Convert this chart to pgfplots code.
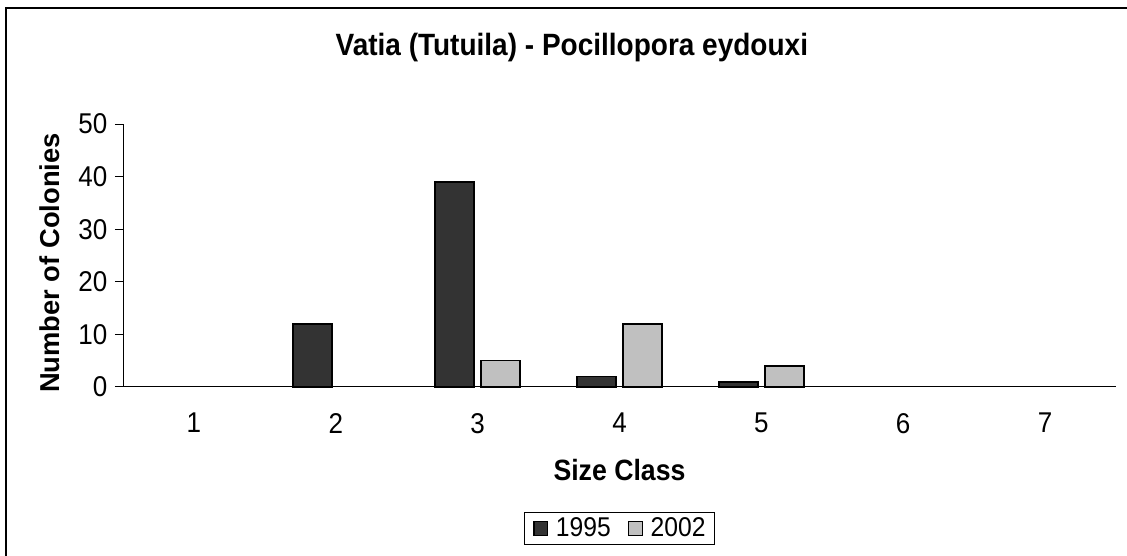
\documentclass[border=0pt]{standalone}
\usepackage{pgfplots}
\pgfplotsset{compat=1.18}
\usepackage{fontspec}
\setmainfont{Liberation Sans}
\definecolor{darkbar}{HTML}{333333}
\definecolor{lightbar}{HTML}{C0C0C0}
\begin{document}
\begin{tikzpicture}
\useasboundingbox (0,0) rectangle (845.25pt,417pt);
\draw[line width=1.5pt] (4.5pt,-2pt) -- (4.5pt,411pt) -- (850pt,411pt);
\begin{axis}[
  at={(92.25pt,126.75pt)}, anchor=south west,
  width=744.75pt, height=197.25pt, scale only axis,
  xmin=0.5, xmax=7.5, ymin=0, ymax=50,
  xtick={1,...,7}, ytick={0,10,...,50},
  axis x line=bottom, axis y line=left,
  axis line style={-, line width=0.75pt, black},
  x tick style={draw=none},
  y tick style={line width=0.75pt, black},
  tick align=outside, major tick length=6pt,
  /pgf/number format/assume math mode=true,
  ticklabel style={font=\fontsize{19.5}{22}\selectfont},
  xticklabel style={anchor=north, inner sep=0pt, yshift=-13.5pt, yscale=1.1},
  yticklabel style={anchor=east, inner sep=0pt, xshift=-5.5pt, yscale=1.1},
  ybar=5.25pt, bar width=29.25pt,
  legend style={at={(0.5,-0.538)}, anchor=center, legend columns=2,
    draw=black, line width=0.75pt, font=\fontsize{18.5}{22}\selectfont,
    inner xsep=7pt, inner ysep=3pt,
    nodes={inner xsep=0pt, inner ysep=1pt, yscale=1.1},
    /tikz/every odd column/.append style={column sep=6pt},
    /tikz/every even column/.append style={column sep=13pt}},
  legend image code/.code={\draw[#1, line width=0.9pt] (0pt,-5pt) rectangle (10pt,5pt);},
  clip=false,
]
\addplot[fill=darkbar, draw=black, line width=1.2pt] coordinates {(2,12) (3,39) (4,2) (5,1)};
\addplot[fill=lightbar, draw=black, line width=1.2pt] coordinates {(3,5) (4,12) (5,4)};
\legend{1995,2002}
\node[font=\fontsize{21}{25}\selectfont\bfseries, yscale=1.1] at (axis description cs:0.452,1.289) {Vatia (Tutuila) - Pocillopora eydouxi};
\node[font=\fontsize{20}{24}\selectfont\bfseries, yscale=1.1] at (axis description cs:0.5,-0.3156) {Size Class};
\node[font=\fontsize{20.5}{24}\selectfont\bfseries, rotate=90] at (axis description cs:-0.0734,0.4715) {Number of Colonies};
\end{axis}
\end{tikzpicture}
\end{document}
